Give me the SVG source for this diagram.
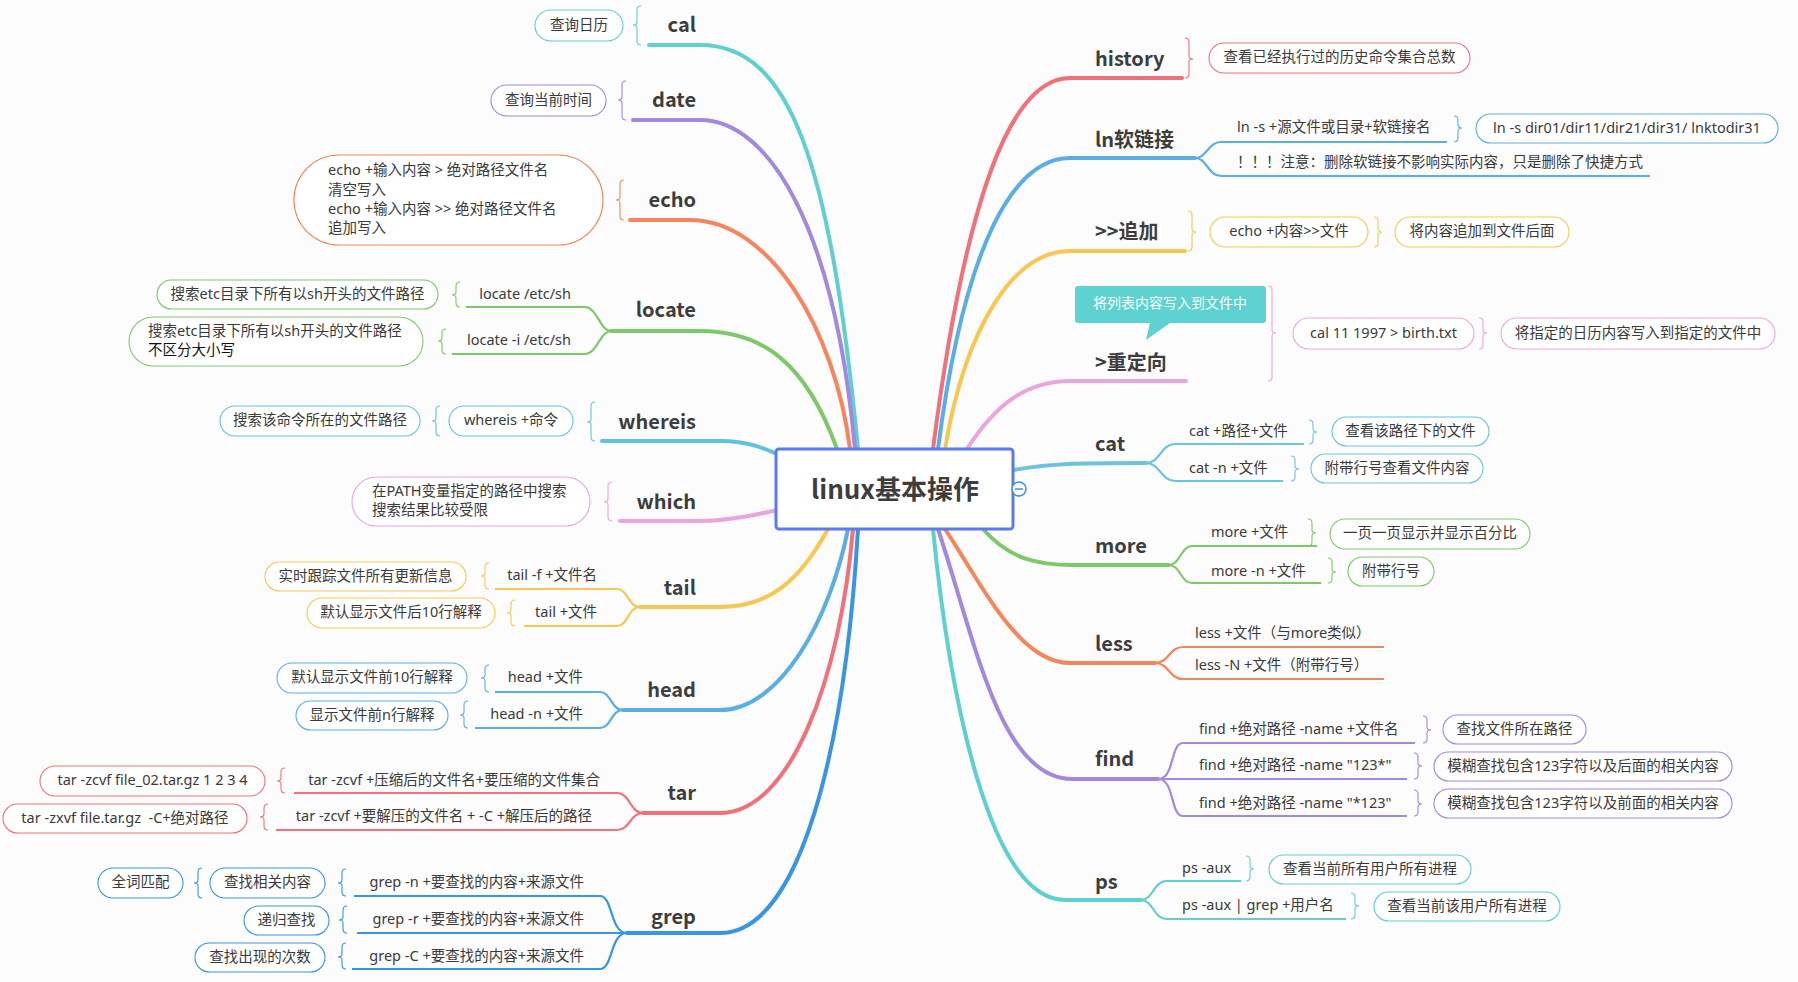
<svg xmlns="http://www.w3.org/2000/svg" width="1798" height="982" viewBox="0 0 1798 982">
<style>
text{font-family:"Noto Sans","Noto Sans CJK SC",sans-serif;fill:#3a3a3a;dominant-baseline:central;transform:translateY(-2px)}
.s{font-size:14.5px}
.e{text-anchor:end}
.mid{text-anchor:middle}
.m{font-size:20px;font-weight:bold;fill:#3d3d3d;font-family:"Noto Sans CJK SC","Noto Sans",sans-serif}
.c{fill:none;stroke-width:4;stroke-linecap:round}
.sb{fill:none;stroke-width:2.2}
.br{fill:none;stroke-width:1.1}
.bub{fill:#fff;stroke-width:1.1}
.teal{stroke:#5ED0CF}.purple{stroke:#A487E0}.orange{stroke:#F7845A}.green{stroke:#7DC96A}
.wblue{stroke:#62C1E3}.pink{stroke:#EBA5DE}.yellow{stroke:#F9C74F}.blue{stroke:#5AAEE8}
.red{stroke:#F1717A}.gblue{stroke:#3795E2}.cyan{stroke:#6CC3DD}
</style>
<rect width="1798" height="982" fill="#FCFCFD"/>
<g id="connectors">
<path class="c teal" d="M649,45 H700 C790,45 830,160 858,449"/>
<path class="c purple" d="M633,120 H700 C770,120 835,230 855,449"/>
<path class="c orange" d="M630,220 H690 C770,220 835,330 850,449"/>
<path class="c green" d="M611,331 H700 C760,331 805,360 837,449"/>
<path class="c wblue" d="M602,441 H720 C752,441 768,450 792,461"/>
<path class="c pink" d="M620,521 H700 C730,521 760,514 786,508"/>
<path class="c yellow" d="M640,607 H720 C770,607 800,580 828,529"/>
<path class="c blue" d="M623,710 H720 C780,710 830,620 848,529"/>
<path class="c red" d="M643,813 H720 C790,813 840,680 853,529"/>
<path class="c gblue" d="M627,933 H720 C800,933 845,750 858,529"/>
<path class="c red" d="M1182,78 H1070 C1010,78 965,200 933,449"/>
<path class="c blue" d="M1195,158 H1070 C1015,158 965,240 938,449"/>
<path class="c yellow" d="M1185,251 H1070 C1012,251 965,330 945,449"/>
<path class="c pink" d="M1186,381 H1070 C1022,381 992,410 967,449"/>
<path class="c cyan" d="M1008,471 C1050,463 1080,463 1146,463"/>
<path class="c green" d="M983,529 C1010,560 1040,565 1072,565 H1169"/>
<path class="c orange" d="M945,529 C985,590 1020,663 1070,663 H1155"/>
<path class="c purple" d="M938,529 C975,640 1000,779 1072,779 H1158"/>
<path class="c teal" d="M933,529 C950,700 990,900 1065,900 H1141"/>
<!-- sub branches left -->
<path class="sb green" d="M611,331 C600,331 597,307 585,307 H466"/>
<path class="sb green" d="M611,331 C600,331 597,354 585,354 H452"/>
<path class="sb yellow" d="M640,607 C628,607 628,589 617,589 H495"/>
<path class="sb yellow" d="M640,607 C628,607 628,626 617,626 H524"/>
<path class="sb blue" d="M623,710 C611,710 611,692 600,692 H495"/>
<path class="sb blue" d="M623,710 C611,710 611,728 600,728 H475"/>
<path class="sb red" d="M643,813 C630,813 630,793 617,793 H294"/>
<path class="sb red" d="M643,813 C630,813 630,830 617,830 H276"/>
<path class="sb gblue" d="M627,933 C610,933 613,896 600,896 H354"/>
<path class="sb gblue" d="M627,933 H357"/>
<path class="sb gblue" d="M627,933 C610,933 613,969 600,969 H352"/>
<!-- sub branches right -->
<path class="sb blue" d="M1195,158 C1207,158 1208,142 1221,142 H1447"/>
<path class="sb blue" d="M1195,158 C1207,158 1208,176 1221,176 H1650"/>
<path class="sb cyan" d="M1146,463 C1160,463 1161,444 1175,444 H1304"/>
<path class="sb cyan" d="M1146,463 C1160,463 1161,481 1175,481 H1283"/>
<path class="sb green" d="M1169,565 C1180,565 1181,546 1192,546 H1317"/>
<path class="sb green" d="M1169,565 C1180,565 1181,583 1192,583 H1321"/>
<path class="sb orange" d="M1155,663 C1169,663 1169,647 1183,647 H1384"/>
<path class="sb orange" d="M1155,663 C1169,663 1169,679 1183,679 H1384"/>
<path class="sb purple" d="M1158,779 C1175,779 1170,743 1183,743 H1415"/>
<path class="sb purple" d="M1158,779 H1407"/>
<path class="sb purple" d="M1158,779 C1175,779 1170,816 1183,816 H1407"/>
<path class="sb teal" d="M1141,900 C1153,900 1154,881 1166,881 H1241"/>
<path class="sb teal" d="M1141,900 C1153,900 1154,919 1166,919 H1346"/>
</g>
<g id="central">
<rect x="776" y="449" width="237" height="80" rx="3" fill="#fff" stroke="#5B7BE8" stroke-width="3"/>
<text x="895" y="489" class="mid" style="font-size:26px;font-weight:bold;fill:#3d3d3d;font-family:'Noto Sans CJK SC',sans-serif">linux基本操作</text>
<circle cx="1019" cy="489" r="7" fill="#fff" stroke="#3F8FE8" stroke-width="1.5"/>
<path d="M1015,489 H1023" stroke="#3F8FE8" stroke-width="1.5"/>
</g>
<g id="cal">
<text x="696" y="25" class="m e">cal</text>
<path class="br teal" d="M641,6 Q637,6 637,10 V22 Q637,25 633,25 Q637,25 637,28 V41 Q637,45 641,45"/>
<rect class="bub teal" x="535" y="10" width="88" height="31" rx="15.5"/>
<text x="579" y="25.5" class="s mid">查询日历</text>
</g>
<g id="date">
<text x="696" y="100" class="m e">date</text>
<path class="br purple" d="M626,81 Q622,81 622,85 V97 Q622,100 618,100 Q622,100 622,103 V116 Q622,120 626,120"/>
<rect class="bub purple" x="491" y="85" width="115" height="31" rx="15.5"/>
<text x="548.5" y="100.5" class="s mid">查询当前时间</text>
</g>
<g id="echo">
<text x="696" y="200" class="m e">echo</text>
<path class="br orange" d="M624,180 Q620,180 620,184 V197 Q620,200 616,200 Q620,200 620,203 V216 Q620,220 624,220"/>
<rect class="bub orange" x="294" y="155" width="309" height="90" rx="45"/>
<text class="s"><tspan x="328" y="171">echo +输入内容 &gt; 绝对路径文件名</tspan><tspan x="328" y="191">清空写入</tspan><tspan x="328" y="210">echo +输入内容 &gt;&gt; 绝对路径文件名</tspan><tspan x="328" y="229">追加写入</tspan></text>
</g>
<g id="locate">
<text x="696" y="310" class="m e">locate</text>
<text x="571" y="295" class="s e">locate /etc/sh</text>
<text x="571" y="341" class="s e">locate -i /etc/sh</text>
<path class="br green" d="M460,282 Q456,282 456,286 V292 Q456,295 452,295 Q456,295 456,298 V303 Q456,307 460,307"/>
<path class="br green" d="M446,329 Q442,329 442,333 V338 Q442,341 438,341 Q442,341 442,344 V350 Q442,354 446,354"/>
<rect class="bub green" x="157" y="280" width="281" height="29" rx="14.5"/>
<text x="297.5" y="294.5" class="s mid">搜索etc目录下所有以sh开头的文件路径</text>
<rect class="bub green" x="129" y="317" width="294" height="49" rx="24.5"/>
<text class="s"><tspan x="148" y="332">搜索etc目录下所有以sh开头的文件路径</tspan><tspan x="148" y="351" style="fill:#111">不区分大小写</tspan></text>
</g>
<g id="whereis">
<text x="696" y="422" class="m e">whereis</text>
<path class="br wblue" d="M595,402 Q591,402 591,406 V419 Q591,422 587,422 Q591,422 591,425 V437 Q591,441 595,441"/>
<rect class="bub wblue" x="449" y="406" width="124" height="30" rx="15"/>
<text x="511" y="421" class="s mid">whereis +命令</text>
<path class="br wblue" d="M440,406 Q436,406 436,410 V418 Q436,421 432,421 Q436,421 436,424 V432 Q436,436 440,436"/>
<rect class="bub wblue" x="220" y="406" width="200" height="30" rx="15"/>
<text x="320" y="421" class="s mid">搜索该命令所在的文件路径</text>
</g>
<g id="which">
<text x="696" y="502" class="m e">which</text>
<path class="br pink" d="M612,482 Q608,482 608,486 V499 Q608,502 604,502 Q608,502 608,505 V517 Q608,521 612,521"/>
<rect class="bub pink" x="352" y="477" width="238" height="49" rx="24.5"/>
<text class="s"><tspan x="372" y="492">在PATH变量指定的路径中搜索</tspan><tspan x="372" y="511">搜索结果比较受限</tspan></text>
</g>
<g id="tail">
<text x="696" y="588" class="m e">tail</text>
<text x="597" y="576" class="s e">tail -f +文件名</text>
<text x="597" y="613" class="s e">tail +文件</text>
<path class="br yellow" d="M489,563 Q485,563 485,567 V573 Q485,576 481,576 Q485,576 485,579 V585 Q485,589 489,589"/>
<path class="br yellow" d="M515,600 Q511,600 511,604 V610 Q511,613 507,613 Q511,613 511,616 V622 Q511,626 515,626"/>
<rect class="bub yellow" x="265" y="562" width="201" height="29" rx="14.5"/>
<text x="365.5" y="576.5" class="s mid">实时跟踪文件所有更新信息</text>
<rect class="bub yellow" x="307" y="598" width="188" height="30" rx="15"/>
<text x="401" y="613" class="s mid">默认显示文件后10行解释</text>
</g>
<g id="head">
<text x="696" y="690" class="m e">head</text>
<text x="583" y="678" class="s e">head +文件</text>
<text x="583" y="715" class="s e">head -n +文件</text>
<path class="br blue" d="M489,665 Q485,665 485,669 V675 Q485,678 481,678 Q485,678 485,681 V688 Q485,692 489,692"/>
<path class="br blue" d="M468,701 Q464,701 464,705 V712 Q464,715 460,715 Q464,715 464,718 V724 Q464,728 468,728"/>
<rect class="bub blue" x="277" y="663" width="190" height="30" rx="15"/>
<text x="372" y="678" class="s mid">默认显示文件前10行解释</text>
<rect class="bub blue" x="296" y="701" width="152" height="29" rx="14.5"/>
<text x="372" y="715.5" class="s mid">显示文件前n行解释</text>
</g>
<g id="tar">
<text x="696" y="793" class="m e">tar</text>
<text x="600" y="781" class="s e">tar -zcvf +压缩后的文件名+要压缩的文件集合</text>
<text x="592" y="817" class="s e">tar -zcvf +要解压的文件名 + -C +解压后的路径</text>
<path class="br red" d="M285,768 Q281,768 281,772 V778 Q281,781 277,781 Q281,781 281,784 V789 Q281,793 285,793"/>
<path class="br red" d="M268,804 Q264,804 264,808 V814 Q264,817 260,817 Q264,817 264,820 V826 Q264,830 268,830"/>
<rect class="bub red" x="40" y="766" width="225" height="30" rx="15"/>
<text x="152.5" y="781" class="s mid">tar -zcvf file_02.tar.gz 1 2 3 4</text>
<rect class="bub red" x="3" y="804" width="244" height="29" rx="14.5"/>
<text x="125" y="818.5" class="s mid" xml:space="preserve">tar -zxvf file.tar.gz  -C+绝对路径</text>
</g>
<g id="grep">
<text x="696" y="917" class="m e">grep</text>
<text x="584" y="883" class="s e">grep -n +要查找的内容+来源文件</text>
<text x="584" y="920" class="s e">grep -r +要查找的内容+来源文件</text>
<text x="584" y="957" class="s e">grep -C +要查找的内容+来源文件</text>
<path class="br gblue" d="M346,869 Q342,869 342,873 V880 Q342,883 338,883 Q342,883 342,886 V892 Q342,896 346,896"/>
<path class="br gblue" d="M347,906 Q343,906 343,910 V917 Q343,920 339,920 Q343,920 343,923 V929 Q343,933 347,933"/>
<path class="br gblue" d="M346,943 Q342,943 342,947 V954 Q342,957 338,957 Q342,957 342,960 V965 Q342,969 346,969"/>
<path class="br gblue" d="M202,868 Q198,868 198,872 V880 Q198,883 194,883 Q198,883 198,886 V894 Q198,898 202,898"/>
<rect class="bub gblue" x="210" y="868" width="115" height="30" rx="15"/>
<text x="267.5" y="883" class="s mid">查找相关内容</text>
<rect class="bub gblue" x="98" y="868" width="85" height="30" rx="15"/>
<text x="140.5" y="883" class="s mid">全词匹配</text>
<rect class="bub gblue" x="244" y="906" width="85" height="29" rx="14.5"/>
<text x="286.5" y="920.5" class="s mid">递归查找</text>
<rect class="bub gblue" x="195" y="943" width="130" height="29" rx="14.5"/>
<text x="260" y="957.5" class="s mid">查找出现的次数</text>
</g>
<g id="history">
<text x="1095" y="59" class="m">history</text>
<path class="br red" d="M1185,38 Q1189,38 1189,42 V56 Q1189,59 1193,59 Q1189,59 1189,62 V74 Q1189,78 1185,78"/>
<rect class="bub red" x="1209" y="43" width="261" height="30" rx="15"/>
<text x="1339.5" y="58" class="s mid">查看已经执行过的历史命令集合总数</text>
</g>
<g id="ln">
<text x="1095" y="140" class="m">ln软链接</text>
<text x="1237" y="128" class="s">ln -s +源文件或目录+软链接名</text>
<text x="1237" y="163" class="s">！！！注意：删除软链接不影响实际内容，只是删除了快捷方式</text>
<path class="br blue" d="M1454,116 Q1458,116 1458,120 V125 Q1458,128 1462,128 Q1458,128 1458,131 V138 Q1458,142 1454,142"/>
<rect class="bub blue" x="1476" y="114" width="302" height="29" rx="14.5"/>
<text x="1627" y="128.5" class="s mid">ln -s dir01/dir11/dir21/dir31/ lnktodir31</text>
</g>
<g id="append">
<text x="1095" y="232" class="m">&gt;&gt;追加</text>
<path class="br yellow" d="M1188,211 Q1192,211 1192,215 V229 Q1192,232 1196,232 Q1192,232 1192,235 V247 Q1192,251 1188,251"/>
<rect class="bub yellow" x="1210" y="217" width="158" height="30" rx="15"/>
<text x="1289" y="232" class="s mid">echo +内容&gt;&gt;文件</text>
<path class="br yellow" d="M1374,217 Q1378,217 1378,221 V229 Q1378,232 1382,232 Q1378,232 1378,235 V243 Q1378,247 1374,247"/>
<rect class="bub yellow" x="1395" y="217" width="174" height="30" rx="15"/>
<text x="1482" y="232" class="s mid">将内容追加到文件后面</text>
</g>
<g id="redirect">
<text x="1095" y="363" class="m">&gt;重定向</text>
<path d="M1078,286 H1263 Q1266,286 1266,289 V320 Q1266,323 1263,323 H1170 L1146,340 L1150,323 H1078 Q1075,323 1075,320 V289 Q1075,286 1078,286 Z" fill="#5DD2D0"/>
<text x="1170" y="304" class="mid" style="font-size:14px;fill:#fff">将列表内容写入到文件中</text>
<path class="br pink" d="M1268,286 Q1272,286 1272,290 V330 Q1272,333 1276,333 Q1272,333 1272,336 V377 Q1272,381 1268,381"/>
<rect class="bub pink" x="1293" y="318" width="181" height="31" rx="15.5"/>
<text x="1383.5" y="333.5" class="s mid">cal 11 1997 &gt; birth.txt</text>
<path class="br pink" d="M1479,318 Q1483,318 1483,322 V330 Q1483,333 1487,333 Q1483,333 1483,336 V345 Q1483,349 1479,349"/>
<rect class="bub pink" x="1501" y="318" width="274" height="31" rx="15.5"/>
<text x="1638" y="333.5" class="s mid">将指定的日历内容写入到指定的文件中</text>
</g>
<g id="cat">
<text x="1095" y="444" class="m">cat</text>
<text x="1189" y="432" class="s">cat +路径+文件</text>
<text x="1189" y="469" class="s">cat -n +文件</text>
<path class="br cyan" d="M1309,420 Q1313,420 1313,424 V429 Q1313,432 1317,432 Q1313,432 1313,435 V440 Q1313,444 1309,444"/>
<path class="br cyan" d="M1291,456 Q1295,456 1295,460 V466 Q1295,469 1299,469 Q1295,469 1295,472 V477 Q1295,481 1291,481"/>
<rect class="bub cyan" x="1332" y="417" width="157" height="29" rx="14.5"/>
<text x="1410.5" y="431.5" class="s mid">查看该路径下的文件</text>
<rect class="bub cyan" x="1311" y="454" width="172" height="29" rx="14.5"/>
<text x="1397" y="468.5" class="s mid">附带行号查看文件内容</text>
</g>
<g id="more">
<text x="1095" y="546" class="m">more</text>
<text x="1211" y="533" class="s">more +文件</text>
<text x="1211" y="572" class="s">more -n +文件</text>
<path class="br green" d="M1308,519 Q1312,519 1312,523 V530 Q1312,533 1316,533 Q1312,533 1312,536 V542 Q1312,546 1308,546"/>
<path class="br green" d="M1328,558 Q1332,558 1332,562 V569 Q1332,572 1336,572 Q1332,572 1332,575 V579 Q1332,583 1328,583"/>
<rect class="bub green" x="1330" y="519" width="200" height="30" rx="15"/>
<text x="1430" y="534" class="s mid">一页一页显示并显示百分比</text>
<rect class="bub green" x="1348" y="557" width="86" height="29" rx="14.5"/>
<text x="1391" y="571.5" class="s mid">附带行号</text>
</g>
<g id="less">
<text x="1095" y="644" class="m">less</text>
<text x="1195" y="634" class="s">less +文件（与more类似）</text>
<text x="1195" y="666" class="s">less -N +文件（附带行号）</text>
</g>
<g id="find">
<text x="1095" y="759" class="m">find</text>
<text x="1199" y="730" class="s">find +绝对路径 -name +文件名</text>
<text x="1199" y="766" class="s">find +绝对路径 -name "123*"</text>
<text x="1199" y="804" class="s">find +绝对路径 -name "*123"</text>
<path class="br purple" d="M1423,716 Q1427,716 1427,720 V727 Q1427,730 1431,730 Q1427,730 1427,733 V739 Q1427,743 1423,743"/>
<path class="br purple" d="M1414,753 Q1418,753 1418,757 V763 Q1418,766 1422,766 Q1418,766 1418,769 V775 Q1418,779 1414,779"/>
<path class="br purple" d="M1414,790 Q1418,790 1418,794 V801 Q1418,804 1422,804 Q1418,804 1418,807 V812 Q1418,816 1414,816"/>
<rect class="bub purple" x="1443" y="715" width="143" height="29" rx="14.5"/>
<text x="1514.5" y="729.5" class="s mid">查找文件所在路径</text>
<rect class="bub purple" x="1434" y="752" width="298" height="29" rx="14.5"/>
<text x="1583" y="766.5" class="s mid">模糊查找包含123字符以及后面的相关内容</text>
<rect class="bub purple" x="1434" y="789" width="298" height="29" rx="14.5"/>
<text x="1583" y="803.5" class="s mid">模糊查找包含123字符以及前面的相关内容</text>
</g>
<g id="ps">
<text x="1095" y="882" class="m">ps</text>
<text x="1182" y="869" class="s">ps -aux</text>
<text x="1182" y="906" class="s">ps -aux | grep +用户名</text>
<path class="br teal" d="M1246,856 Q1250,856 1250,860 V866 Q1250,869 1254,869 Q1250,869 1250,872 V877 Q1250,881 1246,881"/>
<path class="br teal" d="M1351,893 Q1355,893 1355,897 V903 Q1355,906 1359,906 Q1355,906 1355,909 V915 Q1355,919 1351,919"/>
<rect class="bub teal" x="1269" y="855" width="202" height="29" rx="14.5"/>
<text x="1370" y="869.5" class="s mid">查看当前所有用户所有进程</text>
<rect class="bub teal" x="1374" y="892" width="186" height="29" rx="14.5"/>
<text x="1467" y="906.5" class="s mid">查看当前该用户所有进程</text>
</g>
</svg>
